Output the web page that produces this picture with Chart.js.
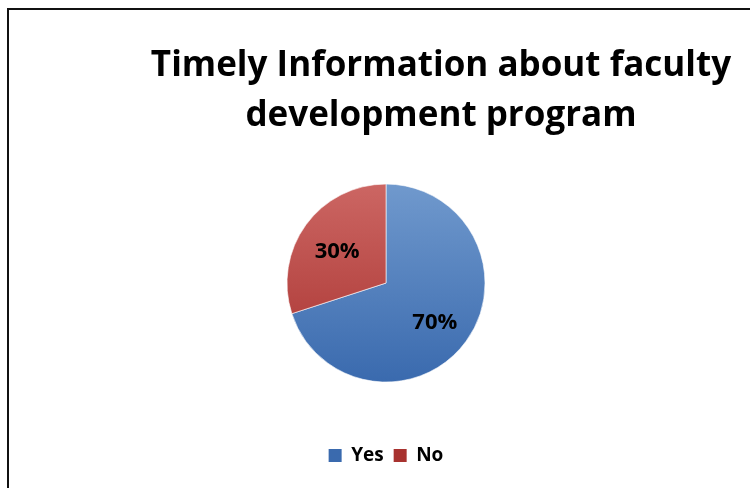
<!DOCTYPE html>
<html>
<head>
<meta charset="utf-8">
<script src="https://cdn.jsdelivr.net/npm/chart.js@4/dist/chart.umd.min.js"></script>
<style>
    html, body { margin: 0; padding: 0; background: #fff; overflow: hidden; }
    #frame {
        position: absolute; left: 7px; top: 8px; width: 800px; height: 500px;
        border-left: 2px solid #111; border-top: 2px solid #111;
    }
    #wrap { position: absolute; left: 0; top: 0; width: 754px; height: 478px; }
</style>
</head>
<body>
<div id="frame"><div id="wrap"><canvas id="pieChart"></canvas></div></div>
<script>
// Chart data
const titleLines = ['Timely Information about faculty', 'development program'];
const categories = ['Yes', 'No'];
const shares = [70, 30];

const PIE_RADIUS = 99;
const TITLE_SHIFT = 55; // title sits right of the pie centre in the original
const FONT = "'Open Sans'";

const gradTop = ['#7099cd', '#cc6663'];
const gradBottom = ['#3a6aae', '#a8322f'];

function sliceFill(context) {
    const chart = context.chart;
    const area = chart.chartArea;
    const i = context.dataIndex;
    if (!area) return gradBottom[i];
    const cy = (area.top + area.bottom) / 2;
    const g = chart.ctx.createLinearGradient(0, cy - PIE_RADIUS, 0, cy + PIE_RADIUS);
    g.addColorStop(0, gradTop[i]);
    g.addColorStop(1, gradBottom[i]);
    return g;
}

// percent labels inside the slices
const sliceLabels = {
    id: 'sliceLabels',
    afterDatasetsDraw(chart) {
        const ctx = chart.ctx;
        const meta = chart.getDatasetMeta(0);
        const total = shares.reduce((a, b) => a + b, 0);
        ctx.save();
        ctx.font = 'bold 22px ' + FONT;
        ctx.fillStyle = '#000';
        ctx.textAlign = 'center';
        ctx.textBaseline = 'middle';
        meta.data.forEach((arc, i) => {
            const p = arc.getProps(['x', 'y', 'startAngle', 'endAngle', 'outerRadius'], true);
            const mid = (p.startAngle + p.endAngle) / 2;
            const r = p.outerRadius * 0.61;
            ctx.fillText(Math.round(shares[i] / total * 100) + '%', p.x + Math.cos(mid) * r, p.y + Math.sin(mid) * r + 4);
        });
        ctx.restore();
    }
};

// move the title block to the right
const titleShift = {
    id: 'titleShift',
    afterLayout(chart) {
        if (chart.titleBlock) chart.titleBlock.right += TITLE_SHIFT * 2;
    }
};

new Chart(document.getElementById('pieChart'), {
    type: 'pie',
    data: {
        labels: categories,
        datasets: [{
            data: shares,
            backgroundColor: sliceFill,
            borderColor: 'rgba(255,255,255,0.6)',
            borderWidth: 1,
            radius: PIE_RADIUS
        }]
    },
    options: {
        responsive: true,
        maintainAspectRatio: false,
        animation: false,
        layout: { padding: { bottom: 13 } },
        plugins: {
            title: {
                display: true,
                text: titleLines,
                color: '#000',
                font: { family: FONT, size: 35, weight: 'bold', lineHeight: 1.43 },
                padding: { top: 31, bottom: -11 }
            },
            legend: {
                position: 'bottom',
                labels: {
                    color: '#000',
                    font: { family: FONT, size: 19, weight: 'bold' },
                    boxWidth: 13,
                    boxHeight: 13,
                    padding: 10,
                    generateLabels(chart) {
                        return categories.map((c, i) => ({
                            text: c,
                            fillStyle: gradBottom[i],
                            strokeStyle: gradBottom[i],
                            lineWidth: 0,
                            index: i
                        }));
                    }
                }
            },
            tooltip: { enabled: false }
        }
    },
    plugins: [sliceLabels, titleShift]
});
</script>
</body>
</html>
